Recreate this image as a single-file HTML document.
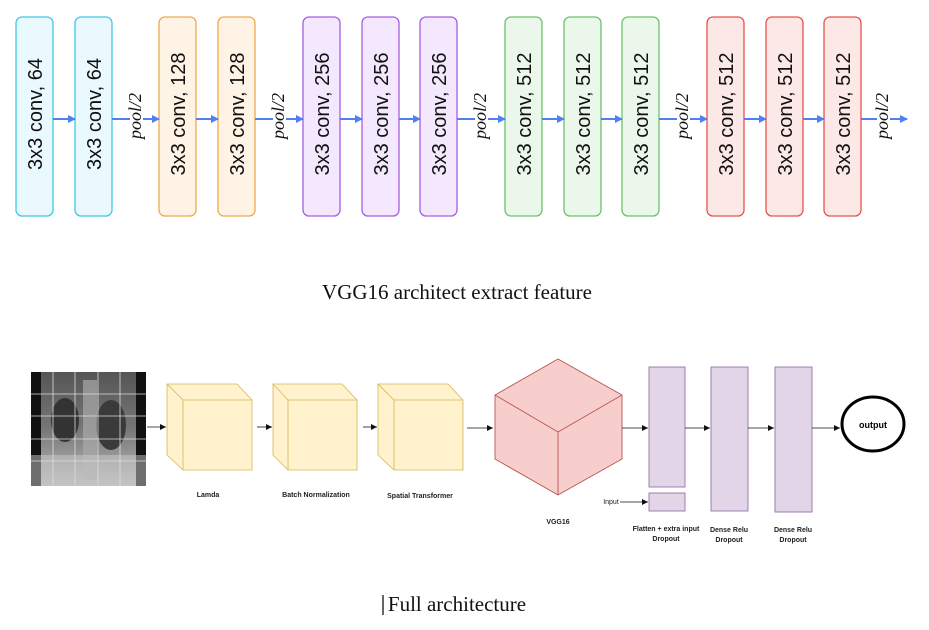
<!DOCTYPE html>
<html><head><meta charset="utf-8"><style>
html,body{margin:0;padding:0;background:#fff;width:929px;height:630px;overflow:hidden}
svg{display:block}
.t{font-family:"Liberation Sans",sans-serif;font-size:20px;fill:#111;white-space:pre}
.p{font-family:"Liberation Serif",serif;font-style:italic;font-size:18px;fill:#111}
.s{font-family:"Liberation Sans",sans-serif;font-size:7px;font-weight:bold;fill:#222}
.cap{font-family:"Liberation Serif",serif;font-size:21px;fill:#111}
</style></head><body>
<svg width="929" height="630" viewBox="0 0 929 630" xmlns="http://www.w3.org/2000/svg">
<defs>
<marker id="ab" markerWidth="8" markerHeight="8" refX="7" refY="4" orient="auto" markerUnits="userSpaceOnUse"><path d="M0,0 L8,4 L0,8 z" fill="#4f7ff0"/></marker>
<marker id="ak" markerWidth="6" markerHeight="6" refX="6" refY="3" orient="auto" markerUnits="userSpaceOnUse"><path d="M0,0 L6,3 L0,6 z" fill="#111"/></marker>
<linearGradient id="xr" x1="0" y1="0" x2="0" y2="1"><stop offset="0" stop-color="#555"/><stop offset="0.5" stop-color="#777"/><stop offset="1" stop-color="#bbb"/></linearGradient>
</defs>
<g stroke-width="1.3">
<rect x="16" y="17" width="37" height="199" rx="6" fill="#e9f9fd" stroke="#3fc8e4"/>
<rect x="75" y="17" width="37" height="199" rx="6" fill="#e9f9fd" stroke="#3fc8e4"/>
<rect x="159" y="17" width="37" height="199" rx="6" fill="#fff3e6" stroke="#f0a94a"/>
<rect x="218" y="17" width="37" height="199" rx="6" fill="#fff3e6" stroke="#f0a94a"/>
<rect x="303" y="17" width="37" height="199" rx="6" fill="#f3e8fd" stroke="#a45ee5"/>
<rect x="362" y="17" width="37" height="199" rx="6" fill="#f3e8fd" stroke="#a45ee5"/>
<rect x="420" y="17" width="37" height="199" rx="6" fill="#f3e8fd" stroke="#a45ee5"/>
<rect x="505" y="17" width="37" height="199" rx="6" fill="#ebf7eb" stroke="#6cc26c"/>
<rect x="564" y="17" width="37" height="199" rx="6" fill="#ebf7eb" stroke="#6cc26c"/>
<rect x="622" y="17" width="37" height="199" rx="6" fill="#ebf7eb" stroke="#6cc26c"/>
<rect x="707" y="17" width="37" height="199" rx="6" fill="#fde8e8" stroke="#e8514b"/>
<rect x="766" y="17" width="37" height="199" rx="6" fill="#fde8e8" stroke="#e8514b"/>
<rect x="824" y="17" width="37" height="199" rx="6" fill="#fde8e8" stroke="#e8514b"/>
</g>
<g class="t" text-anchor="middle">
<text transform="translate(42,114) rotate(-90)">3x3 conv,   64</text>
<text transform="translate(101,114) rotate(-90)">3x3 conv,   64</text>
<text transform="translate(185,114) rotate(-90)">3x3 conv,   128</text>
<text transform="translate(244,114) rotate(-90)">3x3 conv,   128</text>
<text transform="translate(329,114) rotate(-90)">3x3 conv,   256</text>
<text transform="translate(388,114) rotate(-90)">3x3 conv,   256</text>
<text transform="translate(446,114) rotate(-90)">3x3 conv,   256</text>
<text transform="translate(531,114) rotate(-90)">3x3 conv,   512</text>
<text transform="translate(590,114) rotate(-90)">3x3 conv,   512</text>
<text transform="translate(648,114) rotate(-90)">3x3 conv,   512</text>
<text transform="translate(733,114) rotate(-90)">3x3 conv,   512</text>
<text transform="translate(792,114) rotate(-90)">3x3 conv,   512</text>
<text transform="translate(850,114) rotate(-90)">3x3 conv,   512</text>
</g>
<g stroke="#4f7ff0" stroke-width="2" marker-end="url(#ab)">
<line x1="53" y1="119" x2="75" y2="119"/>
<line x1="112" y1="119" x2="159" y2="119"/>
<line x1="196" y1="119" x2="218" y2="119"/>
<line x1="255" y1="119" x2="303" y2="119"/>
<line x1="340" y1="119" x2="362" y2="119"/>
<line x1="399" y1="119" x2="420" y2="119"/>
<line x1="457" y1="119" x2="505" y2="119"/>
<line x1="542" y1="119" x2="564" y2="119"/>
<line x1="601" y1="119" x2="622" y2="119"/>
<line x1="659" y1="119" x2="707" y2="119"/>
<line x1="744" y1="119" x2="766" y2="119"/>
<line x1="803" y1="119" x2="824" y2="119"/>
<line x1="861" y1="119" x2="907" y2="119"/>
</g>
<g class="p" text-anchor="middle">
<rect x="130" y="92" width="13" height="48" fill="#fff"/><text transform="translate(141,116) rotate(-90)">pool/2</text>
<rect x="273" y="92" width="13" height="48" fill="#fff"/><text transform="translate(284,116) rotate(-90)">pool/2</text>
<rect x="475" y="92" width="13" height="48" fill="#fff"/><text transform="translate(486,116) rotate(-90)">pool/2</text>
<rect x="677" y="92" width="13" height="48" fill="#fff"/><text transform="translate(688,116) rotate(-90)">pool/2</text>
<rect x="877" y="92" width="13" height="48" fill="#fff"/><text transform="translate(888,116) rotate(-90)">pool/2</text>
</g>
<text class="cap" x="457" y="299" text-anchor="middle">VGG16 architect extract feature</text>

<rect x="31" y="372" width="115" height="114" fill="url(#xr)"/>
<rect x="31" y="372" width="10" height="114" fill="#111"/>
<rect x="136" y="372" width="10" height="114" fill="#111"/>
<ellipse cx="65" cy="420" rx="14" ry="22" fill="#333"/>
<ellipse cx="111" cy="425" rx="15" ry="25" fill="#3a3a3a"/>
<rect x="83" y="380" width="14" height="100" fill="#aaa" opacity="0.7"/>
<rect x="31" y="455" width="115" height="31" fill="#ccc" opacity="0.5"/>
<g stroke="#ddd" stroke-width="0.8">
<line x1="53" y1="372" x2="53" y2="486"/><line x1="75" y1="372" x2="75" y2="486"/><line x1="98" y1="372" x2="98" y2="486"/><line x1="120" y1="372" x2="120" y2="486"/>
<line x1="31" y1="394" x2="146" y2="394"/><line x1="31" y1="416" x2="146" y2="416"/><line x1="31" y1="439" x2="146" y2="439"/><line x1="31" y1="461" x2="146" y2="461"/>
</g>
<g fill="#fff2cc" stroke="#d6b656" stroke-width="0.8">
<path d="M167,384 L237,384 L252,400 L252,470 L183,470 L167,455 Z"/><path d="M167,384 L183,400 L252,400 M183,400 L183,470" fill="none"/>
<path d="M273,384 L342,384 L357,400 L357,470 L288,470 L273,455 Z"/><path d="M273,384 L288,400 L357,400 M288,400 L288,470" fill="none"/>
<path d="M378,384 L448,384 L463,400 L463,470 L394,470 L378,455 Z"/><path d="M378,384 L394,400 L463,400 M394,400 L394,470" fill="none"/>
</g>
<g fill="#f8cecc" stroke="#b85450" stroke-width="0.9">
<path d="M558,359 L622,395 L622,459 L558,495 L495,459 L495,395 Z"/>
<path d="M495,395 L558,432 L622,395 M558,432 L558,495" fill="none"/>
</g>
<g fill="#e1d5e7" stroke="#9673a6" stroke-width="0.9">
<rect x="649" y="367" width="36" height="120"/>
<rect x="649" y="493" width="36" height="18"/>
<rect x="711" y="367" width="37" height="144"/>
<rect x="775" y="367" width="37" height="145"/>
</g>
<ellipse cx="873" cy="424" rx="31" ry="27" fill="#fff" stroke="#000" stroke-width="3"/>
<text x="873" y="428" text-anchor="middle" font-family="Liberation Sans,sans-serif" font-weight="bold" font-size="9">output</text>
<g stroke="#111" stroke-width="0.8" marker-end="url(#ak)">
<line x1="147" y1="427" x2="166" y2="427"/>
<line x1="257" y1="427" x2="272" y2="427"/>
<line x1="363" y1="427" x2="377" y2="427"/>
<line x1="467" y1="428" x2="493" y2="428"/>
<line x1="622" y1="428" x2="648" y2="428"/>
<line x1="685" y1="428" x2="710" y2="428"/>
<line x1="748" y1="428" x2="774" y2="428"/>
<line x1="812" y1="428" x2="840" y2="428"/>
<line x1="620" y1="502" x2="648" y2="502"/>
</g>
<g class="s" text-anchor="middle">
<text x="208" y="497">Lamda</text>
<text x="316" y="497">Batch Normalization</text>
<text x="420" y="498">Spatial Transformer</text>
<text x="558" y="524">VGG16</text>
<text x="666" y="531">Flatten + extra input</text><text x="666" y="541">Dropout</text>
<text x="729" y="532">Dense Relu</text><text x="729" y="542">Dropout</text>
<text x="793" y="532">Dense Relu</text><text x="793" y="542">Dropout</text>
<text x="611" y="504" font-weight="normal">Input</text>
</g>
<line x1="383" y1="595" x2="383" y2="615" stroke="#000" stroke-width="1.2"/>
<text class="cap" x="457" y="611" text-anchor="middle">Full architecture</text>
</svg>
</body></html>
